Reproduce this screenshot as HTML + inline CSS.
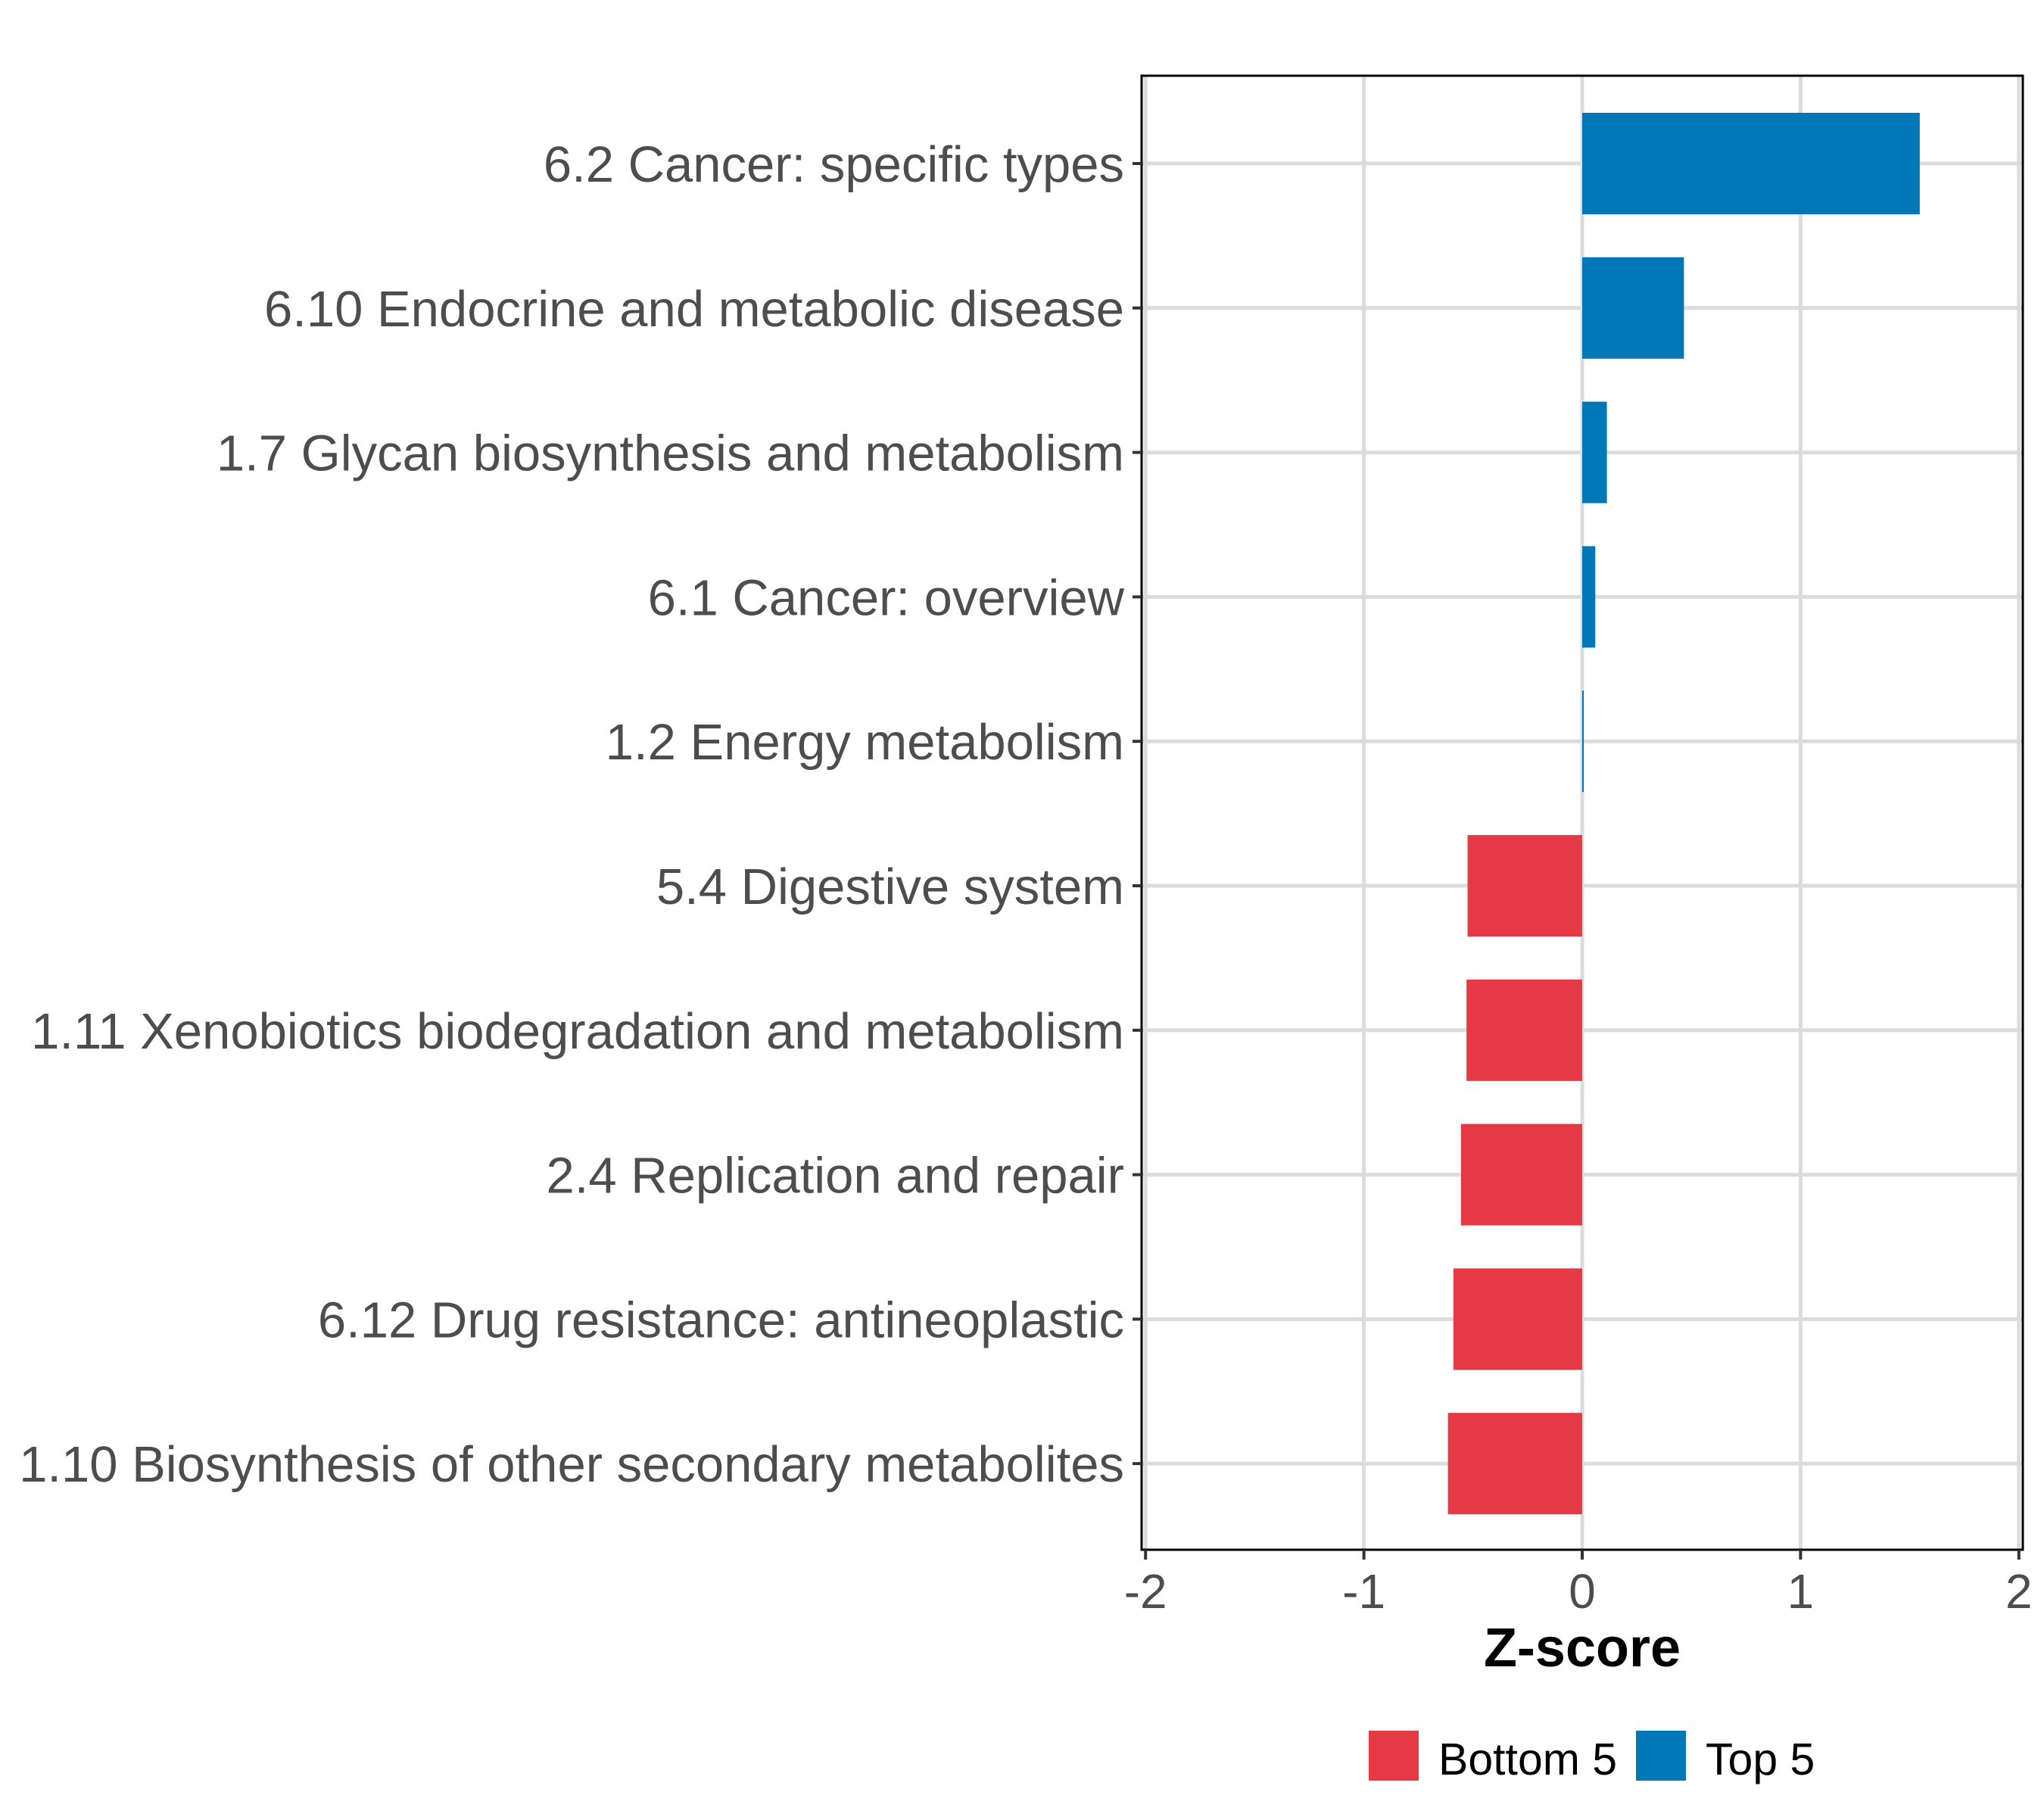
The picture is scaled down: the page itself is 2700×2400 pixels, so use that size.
<!DOCTYPE html>
<html><head><meta charset="utf-8"><style>
html,body{margin:0;padding:0;background:#fff;}
svg{display:block;font-family:"Liberation Sans",Arial,sans-serif;}
</style></head><body>
<svg id="chart" width="2700" height="2400" viewBox="0 0 2700 2400" xmlns="http://www.w3.org/2000/svg">
<g id="grid"></g>
<g id="bars"></g>
<rect x="1508" y="100" width="1164" height="1947" fill="none" stroke="#000" stroke-width="3"/>
<g id="yaxis"></g>
<g id="xaxis"></g>
<text x="2090" y="2201" text-anchor="middle" font-size="72" font-weight="bold" fill="#000">Z-score</text>
<g>
<rect x="1808" y="2286" width="66" height="66" fill="#E63946"/>
<text x="1900" y="2344" font-size="59" fill="#000">Bottom 5</text>
<rect x="2161" y="2286" width="66" height="66" fill="#0077B6"/>
<text x="2253" y="2344" font-size="59" fill="#000">Top 5</text>
</g>
</svg>
<script>
const categories = ["6.2 Cancer: specific types","6.10 Endocrine and metabolic disease","1.7 Glycan biosynthesis and metabolism","6.1 Cancer: overview","1.2 Energy metabolism","5.4 Digestive system","1.11 Xenobiotics biodegradation and metabolism","2.4 Replication and repair","6.12 Drug resistance: antineoplastic","1.10 Biosynthesis of other secondary metabolites"];
const values = [1.546, 0.466, 0.113, 0.06, 0.005, -0.525, -0.53, -0.555, -0.59, -0.615];
const groups = ["Top 5","Top 5","Top 5","Top 5","Top 5","Bottom 5","Bottom 5","Bottom 5","Bottom 5","Bottom 5"];
const xTicks = [-2, -1, 0, 1, 2];
const xTickLabels = ["-2","-1","0","1","2"];

const NS = "http://www.w3.org/2000/svg";
const X0 = 2090, UNIT = 288.4;
function xs(v){ return X0 + v*UNIT; }
const ROW0 = 216, STEP = 190.8, BAR_H = 134;
function ys(i){ return ROW0 + i*STEP; }
const colors = {"Top 5":"#0077B6","Bottom 5":"#E63946"};
function mk(tag, attrs, parent){
  const e = document.createElementNS(NS, tag);
  for (const k in attrs) e.setAttribute(k, attrs[k]);
  parent.appendChild(e); return e;
}
const grid = document.getElementById('grid');
const bars = document.getElementById('bars');
const yaxis = document.getElementById('yaxis');
const xaxis = document.getElementById('xaxis');

xTicks.forEach((t, i) => {
  const gl = mk('line', {x1: xs(t), x2: xs(t), y1: 100, y2: 2047, stroke: '#dcdcdc', 'stroke-width': 5}, grid);
  
  
  const tk = mk('line', {x1: xs(t), x2: xs(t), y1: 2047, y2: 2060, stroke: '#333', 'stroke-width': 4}, xaxis);
  
  
  const tl = mk('text', {x: xs(t), y: 2124, 'text-anchor': 'middle', 'font-size': 64, fill: '#4d4d4d'}, xaxis);
  tl.textContent = xTickLabels[i];
  
  
});

categories.forEach((c, i) => {
  const y = ys(i);
  const gl = mk('line', {x1: 1508, x2: 2672, y1: y, y2: y, stroke: '#dcdcdc', 'stroke-width': 5}, grid);
  
  
  const v = values[i];
  const x1 = Math.min(xs(0), xs(v)), w = Math.max(Math.abs(xs(v) - xs(0)), 2);
  const b = mk('rect', {x: x1, y: y - BAR_H/2, width: w, height: BAR_H, fill: colors[groups[i]]}, bars);
  
  
  const tk = mk('line', {x1: 1496, x2: 1508, y1: y, y2: y, stroke: '#333', 'stroke-width': 4}, yaxis);
  
  
  const tl = mk('text', {x: 1485, y: y + 24, 'text-anchor': 'end', 'font-size': 67, fill: '#4d4d4d'}, yaxis);
  tl.textContent = c;
  
  
});
</script>
</body></html>
